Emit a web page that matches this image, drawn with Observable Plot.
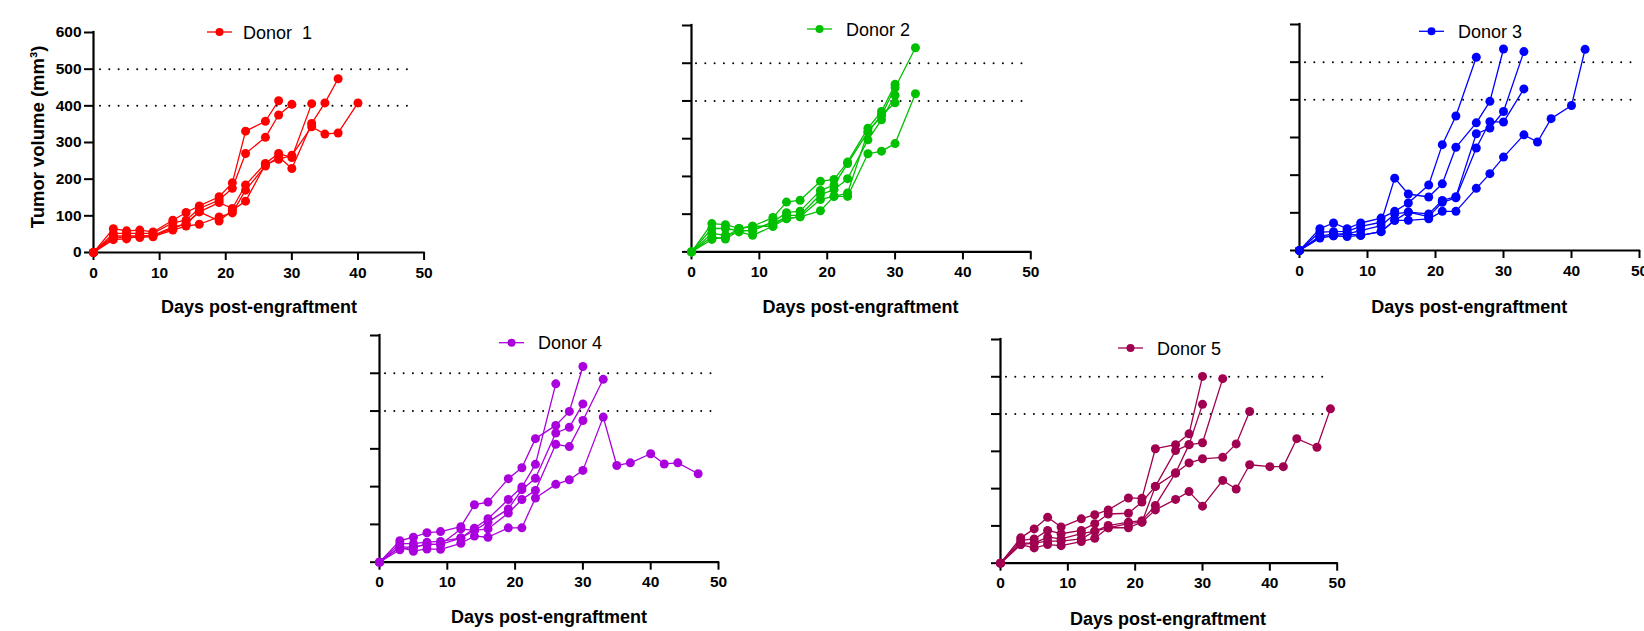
<!DOCTYPE html>
<html><head><meta charset="utf-8">
<script src="https://cdn.jsdelivr.net/npm/d3@7"></script>
<script src="https://cdn.jsdelivr.net/npm/@observablehq/plot@0.6"></script>
<style>
html,body{margin:0;padding:0;background:#fff;}
#root{position:relative;width:1644px;height:631px;overflow:hidden;font-family:Arial,"Liberation Sans",sans-serif;}
</style></head><body><div id="root"></div>
<script>
const xTicks = [0, 10, 20, 30, 40, 50];
const yTicks = [0, 100, 200, 300, 400, 500, 600];
const thresholds = [400, 500];
const donorNames = ["Donor  1", "Donor 2", "Donor 3", "Donor 4", "Donor 5"];
const donorColors = ["#ff0000", "#00c000", "#0000ff", "#aa00dd", "#a0004f"];
const yTitle = "Tumor volume (mm\u00B3)";
const xTitle = "Days post-engraftment";

// Donor 1
const days1 = [0,3,5,7,9,12,14,16,19,21,23,26,28,30,33,35,37,40];
const mice1 = [
  [0,65,59,61,56,88,109,127,152,190,331,358,414],
  [0,52,52,52,52,81,88,120,143,175,270,314,375,404],
  [0,45,45,45,46,70,77,111,136,120,184,243,270,259,406],
  [0,40,41,41,43,61,72,77,97,108,170,236,261,229,352,408,474],
  [0,35,37,45,46,65,80,111,86,115,140,240,254,265,343,323,326,408]
];
// Donor 2
const days2 = [0,3,5,7,9,12,14,16,19,21,23,26,28,30,33];
const mice2 = [
  [0,75,72,62,68,91,132,137,187,192,238,328,372,444],
  [0,62,62,56,57,79,104,108,163,177,234,318,362,435,541],
  [0,49,44,53,44,68,97,97,152,165,194,297,350,415],
  [0,40,34,56,57,79,88,93,139,147,156,318,362,395],
  [0,33,40,62,68,68,88,93,109,147,147,260,267,287,419]
];
// Donor 3
const days3 = [0,3,5,7,9,12,14,16,19,21,23,26,28,30,33,35,37,40,42];
const mice3 = [
  [0,58,73,58,73,86,104,126,174,281,357,513],
  [0,49,50,51,64,75,192,150,142,177,274,339,396,535],
  [0,38,44,44,53,66,97,102,97,133,143,310,325,369,528],
  [0,33,39,37,40,50,80,102,90,128,140,272,342,341,429],
  [0,38,39,44,40,50,80,80,84,104,104,165,204,248,307,288,350,385,534]
];
// Donor 4
const days4 = [0,3,5,7,9,12,14,16,19,21,23,26,28,30,33,35,37,40,42,44,47];
const mice4 = [
  [0,49,49,53,55,64,90,115,166,199,259,472],
  [0,57,66,78,81,94,152,159,221,250,327,362,399,518],
  [0,40,40,47,47,88,84,106,141,192,222,342,357,419],
  [0,33,40,47,47,64,84,88,130,166,190,312,306,375,484],
  [0,40,29,35,34,50,69,66,91,91,170,206,218,243,384,256,263,287,260,263,234]
];
// Donor 5
const days5 = [0,3,5,7,9,12,14,16,19,21,23,26,28,30,33,35,37,40,42,44,47,49];
const mice5 = [
  [0,68,92,123,97,119,130,143,175,174,307,318,347,501],
  [0,61,65,88,79,88,106,132,134,164,206,302,318,426],
  [0,54,54,70,65,79,86,101,110,114,155,242,318,323,495],
  [0,50,54,59,59,65,86,95,106,110,206,242,269,280,284,320,407],
  [0,50,41,50,47,58,67,95,95,110,143,171,192,153,222,199,264,259,259,334,311,414]
];

const allDays = [days1, days2, days3, days4, days5];
const allMice = [mice1, mice2, mice3, mice4, mice5];

// layout (pixel geometry of each panel)
const layout = [
  {ax: 92.7,  x50: 423.3,  y600: 32.3, y0: 252.3, il: 7, ir: 15, lx: 207,  ly: 32,    tx: 243,  cx: 259,    by: 313},
  {ax: 690.7, x50: 1030,   y600: 25.3, y0: 251.7, il: 5, ir: 5,  lx: 807,  ly: 29,    tx: 846,  cx: 860.5,  by: 313},
  {ax: 1299.3,x50: 1639.3, y600: 24,   y0: 250,   il: 6, ir: 6,  lx: 1419, ly: 31.3,  tx: 1458, cx: 1469.3, by: 313},
  {ax: 379.3, x50: 718.3,  y600: 335,  y0: 561.7, il: 6, ir: 5,  lx: 499,  ly: 342.7, tx: 538,  cx: 549,    by: 623},
  {ax: 1000,  x50: 1336.7, y600: 339,  y0: 562.7, il: 6, ir: 14, lx: 1118, ly: 348,   tx: 1157, cx: 1168,   by: 625}
];

const root = document.getElementById("root");
const FONT = "Arial, 'Liberation Sans', sans-serif";

allMice.forEach((mice, i) => {
  const L = layout[i];
  const color = donorColors[i];
  const mL = 70, mT = 12, mB = 45, mR = 12;
  const pw = L.x50 - L.ax, ph = L.y0 - L.y600;
  const rows = [];
  mice.forEach((m, k) => m.forEach((v, j) => rows.push({day: allDays[i][j], vol: v, mouse: k})));
  const p = Plot.plot({
    width: mL + pw + mR, height: mT + ph + mB,
    marginLeft: mL, marginRight: mR, marginTop: mT, marginBottom: mB,
    style: "font-family: Arial, 'Liberation Sans', sans-serif; font-size: 15.5px; font-weight: bold; color: #000; background: transparent; overflow: visible; max-width: none;",
    x: {domain: [xTicks[0], xTicks[xTicks.length - 1]]},
    y: {domain: [yTicks[0], yTicks[yTicks.length - 1]]},
    marks: [
      Plot.ruleY(thresholds, {stroke: "#000", strokeWidth: 2, strokeDasharray: "0,9.3", strokeLinecap: "round", insetLeft: L.il, insetRight: L.ir}),
      Plot.axisX({ticks: xTicks, tickSize: 8, tickPadding: 6, strokeWidth: 2, label: null, fontSize: 15.5, fontWeight: "bold", tickFormat: d => String(d)}),
      Plot.axisY({ticks: yTicks, tickSize: 9, tickPadding: 3, strokeWidth: 2, label: null, fontSize: 15.5, fontWeight: "bold", tickFormat: i === 0 ? (d => String(d)) : (() => "")}),
      Plot.ruleX([xTicks[0]], {y1: yTicks[0], y2: yTicks[yTicks.length - 1], stroke: "#000", strokeWidth: 2.2, strokeLinecap: "square"}),
      Plot.ruleY([yTicks[0]], {x1: xTicks[0], x2: xTicks[xTicks.length - 1], stroke: "#000", strokeWidth: 2.2, strokeLinecap: "square"}),
      Plot.line(rows, {x: "day", y: "vol", z: "mouse", stroke: color, strokeWidth: 1.3}),
      Plot.dot(rows, {x: "day", y: "vol", r: 4.5, fill: color, stroke: "none"})
    ]
  });
  p.style.position = "absolute";
  p.style.left = (L.ax - mL) + "px";
  p.style.top = (L.y600 - mT) + "px";
  root.appendChild(p);
});

// overlay: titles and legends
const ov = d3.select(root).append("svg")
  .attr("width", 1644).attr("height", 631)
  .style("position", "absolute").style("left", "0px").style("top", "0px")
  .style("font-family", FONT);

ov.append("text")
  .attr("transform", "translate(44,137) rotate(-90)")
  .attr("text-anchor", "middle")
  .attr("font-size", "18.5px").attr("font-weight", "bold").attr("fill", "#000")
  .text(yTitle);

layout.forEach((L, i) => {
  ov.append("text").attr("x", L.cx).attr("y", L.by)
    .attr("text-anchor", "middle").attr("font-size", "18px").attr("font-weight", "bold").attr("fill", "#000")
    .text(xTitle);
  const g = ov.append("g");
  g.append("line").attr("x1", L.lx).attr("x2", L.lx + 25).attr("y1", L.ly).attr("y2", L.ly)
    .attr("stroke", donorColors[i]).attr("stroke-width", 1.3);
  g.append("circle").attr("cx", L.lx + 12.5).attr("cy", L.ly).attr("r", 4).attr("fill", donorColors[i]);
  g.append("text").attr("x", L.tx).attr("y", L.ly + 6.5)
    .attr("font-size", "18px").attr("fill", "#000").style("white-space", "pre")
    .text(donorNames[i]);
});
</script></body></html>
